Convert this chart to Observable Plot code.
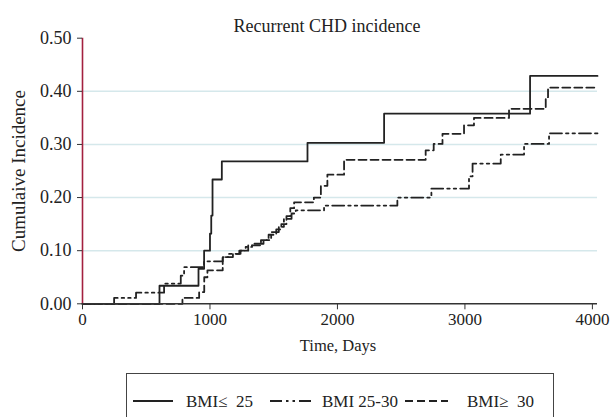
<!DOCTYPE html>
<html><head><meta charset="utf-8">
<script src="https://cdn.jsdelivr.net/npm/d3@7"></script>
<script src="https://cdn.jsdelivr.net/npm/@observablehq/plot@0.6"></script>
<style>body{margin:0;background:#fff}</style>
</head><body><div id="chart"></div>
<script>
const title = "Recurrent CHD incidence";
const xLabel = "Time, Days";
const yLabel = "Cumulaive Incidence";
const seriesNames = ["BMI≤  25", "BMI 25-30", "BMI≥  30"];
const xTicks = [0, 1000, 2000, 3000, 4000];
const yTicks = [0, 0.1, 0.2, 0.3, 0.4, 0.5];
const gridValues = [0.1, 0.2, 0.3, 0.4];

// BMI <= 25 (solid)
const lowT = [0, 604, 910, 954, 1000, 1010, 1020, 1093, 1765, 2366, 3511, 4040];
const lowV = [0, 0.034, 0.066, 0.100, 0.132, 0.166, 0.234, 0.268, 0.303, 0.358, 0.429, 0.429];
// BMI 25-30 (dash-dot)
const midT = [0, 248, 420, 640, 771, 797, 954, 1100, 1150, 1230, 1280, 1330, 1420, 1480, 1540, 1580, 1640, 1673, 1895, 2470, 2737, 3032, 3060, 3281, 3464, 3660, 4040];
const midV = [0, 0.011, 0.021, 0.038, 0.053, 0.069, 0.080, 0.088, 0.094, 0.100, 0.107, 0.113, 0.120, 0.135, 0.145, 0.160, 0.170, 0.176, 0.185, 0.200, 0.217, 0.240, 0.264, 0.281, 0.301, 0.321, 0.321];
// BMI >= 30 (dashed)
const highT = [0, 784, 915, 955, 980, 1100, 1180, 1240, 1300, 1400, 1460, 1520, 1560, 1600, 1630, 1660, 1815, 1870, 1921, 2052, 2692, 2755, 2824, 2993, 3071, 3346, 3634, 3652, 4040];
const highV = [0, 0.011, 0.022, 0.050, 0.063, 0.088, 0.094, 0.100, 0.110, 0.120, 0.130, 0.140, 0.150, 0.165, 0.180, 0.191, 0.200, 0.222, 0.243, 0.271, 0.289, 0.301, 0.320, 0.336, 0.350, 0.367, 0.389, 0.407, 0.407];

const toRows = (T, V, s) => T.map((t, i) => ({t, v: V[i], s}));
const low = toRows(lowT, lowV, seriesNames[0]);
const mid = toRows(midT, midV, seriesNames[1]);
const high = toRows(highT, highV, seriesNames[2]);

const dashes = ["none", "12,4,2.5,4,2.5,4", "8,4"];
const ink = "#222";
const font = "Liberation Serif";

const W = 616, H = 417;
const chart = Plot.plot({
  width: W, height: H,
  marginLeft: 82, marginRight: 19, marginTop: 37.7, marginBottom: 113.7,
  style: {fontFamily: font, fontSize: "17px", color: ink, background: "#fff"},
  x: {domain: [0, 4040]},
  y: {domain: [0, 0.5]},
  marks: [
    Plot.ruleY(gridValues, {stroke: "#d5e8eb", strokeWidth: 1.6}),
    Plot.line(low, {x: "t", y: "v", curve: "step-after", stroke: ink, strokeWidth: 1.8}),
    Plot.line(mid, {x: "t", y: "v", curve: "step-after", stroke: ink, strokeWidth: 1.8, strokeDasharray: dashes[1]}),
    Plot.line(high, {x: "t", y: "v", curve: "step-after", stroke: ink, strokeWidth: 1.8, strokeDasharray: dashes[2]}),
    Plot.ruleY([0], {stroke: "#333", strokeWidth: 1.5}),
    Plot.ruleX([0], {y1: 0, y2: 0.5, stroke: "#a3203f", strokeWidth: 1.6}),
    Plot.axisX({ticks: xTicks, tickSize: 6, tickPadding: 3, tickFormat: d => String(d), fontSize: 17, label: null, stroke: "#333"}),
    Plot.axisY({ticks: yTicks, tickSize: 5, tickPadding: 6, tickFormat: d3.format(".2f"), fontSize: 18, label: null, stroke: "#333"})
  ]
});
document.getElementById("chart").appendChild(chart);

const svg = d3.select(chart);
svg.append("text").attr("x", 327).attr("y", 31.5).attr("text-anchor", "middle")
  .attr("font-family", font).attr("font-size", 18).attr("fill", ink).text(title);
svg.append("text").attr("x", 338).attr("y", 351).attr("text-anchor", "middle")
  .attr("font-family", font).attr("font-size", 16.5).attr("fill", ink).text(xLabel);
svg.append("text").attr("transform", "translate(25,171) rotate(-90)").attr("text-anchor", "middle")
  .attr("font-family", font).attr("font-size", 19).attr("fill", ink).text(yLabel);

// legend
const lg = svg.append("g");
lg.append("rect").attr("x", 126.5).attr("y", 373.5).attr("width", 427).attr("height", 60)
  .attr("fill", "none").attr("stroke", "#444").attr("stroke-width", 1);
const items = [
  {x1: 133, x2: 173, tx: 186},
  {x1: 270, x2: 312, tx: 322},
  {x1: 405, x2: 448, tx: 467}
];
items.forEach((it, i) => {
  lg.append("line").attr("x1", it.x1).attr("x2", it.x2).attr("y1", 401).attr("y2", 401)
    .attr("stroke", ink).attr("stroke-width", 1.8).attr("stroke-dasharray", dashes[i]);
  lg.append("text").attr("x", it.tx).attr("y", 406.5).attr("text-anchor", "start")
    .attr("font-family", font).attr("font-size", 17).attr("fill", ink)
    .style("white-space", "pre").text(seriesNames[i]);
});
</script>
</body></html>
